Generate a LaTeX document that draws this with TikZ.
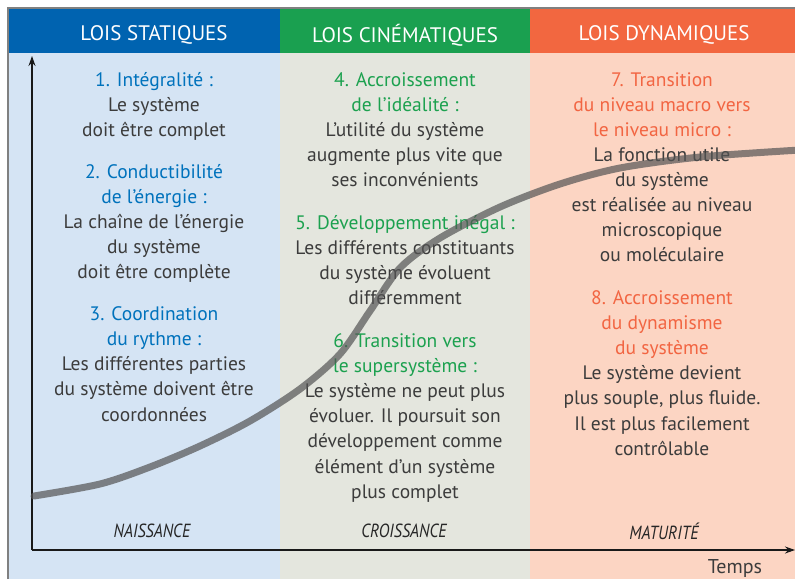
\documentclass[tikz,border=0pt]{standalone}
\usepackage{fontspec}
\setmainfont{PT Sans}
\usetikzlibrary{positioning,arrows.meta}
\definecolor{hblue}{RGB}{0,99,176}
\definecolor{hgreen}{RGB}{26,160,80}
\definecolor{horange}{RGB}{242,103,64}
\definecolor{lblue}{RGB}{213,228,244}
\definecolor{lgreen}{RGB}{228,230,222}
\definecolor{lorange}{RGB}{252,213,195}
\definecolor{tblue}{RGB}{0,114,188}
\definecolor{tgreen}{RGB}{28,161,79}
\definecolor{torange}{RGB}{242,101,66}
\definecolor{tbody}{RGB}{60,60,60}
\newcommand{\lawfont}{\fontsize{19.5}{25.1}\selectfont}
\newcommand{\lawtitle}[2]{\textcolor{#1}{#2}}
\tikzset{%
  head/.style     = { text = white, font = \fontsize{21}{21}\selectfont, inner sep = 0pt },
  law/.style      = { align = center, text = tbody, font = \lawfont, inner sep = 0pt, anchor = north,
    execute at begin node = \strut, execute at end node = \strut },
  stage/.style    = { text = black!85, font = \fontsize{19}{19}\selectfont\itshape, xscale = 0.85, inner sep = 0pt },
  axis/.style     = { -{Stealth[length = 10pt, width = 7pt]}, line width = 1.1pt, black!90 },
  curve/.style    = { line width = 7pt, draw = black!67, opacity = 0.7, line cap = round },
}

\begin{document}
\begin{tikzpicture}[x=1pt, y=-1pt]
    \useasboundingbox (0,0) rectangle (795,579);
    % columns --------------------------------------------------------------------------------------
    \fill[white]   (0,0)   rectangle (795,579);
    \fill[lblue]   (8,8)   rectangle (280,579);
    \fill[lgreen]  (280,8) rectangle (530,579);
    \fill[lorange] (530,8) rectangle (795,579);
    \fill[hblue]   (8,8)   rectangle (280,53);
    \fill[hgreen]  (280,8) rectangle (530,53);
    \fill[horange] (530,8) rectangle (795,53);
    \draw[black!50, line width = 1.5pt] (8,579) -- (8,8) -- (795,8);
    % headers
    \node(hs) [head] at (154,35) {LOIS STATIQUES};
    \node(hc) [head] at (405,35) {LOIS CINÉMATIQUES};
    \node(hd) [head] at (664,35) {LOIS DYNAMIQUES};
    % laws -----------------------------------------------------------------------------------------
    % statiques
    \node(s1) [law] at (154,72) {\lawtitle{tblue}{1. Intégralité :}\\ Le système\\ doit être complet};
    \node(s2) [law, below = 20pt of s1] {\lawtitle{tblue}{2. Conductibilité}\\ \lawtitle{tblue}{de l’énergie :}\\
      La chaîne de l’énergie\\ du système\\ doit être complète};
    \node(s3) [law, below = 20pt of s2] {\lawtitle{tblue}{3. Coordination}\\ \lawtitle{tblue}{du rythme :}\\
      Les différentes parties\\ du système doivent être\\ coordonnées};
    % cinematiques
    \node(c1) [law] at (405,72) {\lawtitle{tgreen}{4. Accroissement}\\ \lawtitle{tgreen}{de l’idéalité :}\\
      L’utilité du système\\ augmente plus vite que\\ ses inconvénients};
    \node(c2) [law, below = 21pt of c1] {\lawtitle{tgreen}{5. Développement inégal :}\\
      Les différents constituants\\ du système évoluent\\ différemment};
    \node(c3) [law, below = 21pt of c2] {\lawtitle{tgreen}{6. Transition vers}\\ \lawtitle{tgreen}{le supersystème :}\\
      Le système ne peut plus\\ évoluer. Il poursuit son\\ développement comme\\ élément d’un système\\ plus complet};
    % dynamiques
    \node(d1) [law] at (662,72) {\lawtitle{torange}{7. Transition}\\ \lawtitle{torange}{du niveau macro vers}\\
      \lawtitle{torange}{le niveau micro :}\\ La fonction utile\\ du système\\ est réalisée au niveau\\
      microscopique\\ ou moléculaire};
    \node(d2) [law, below = 21pt of d1] {\lawtitle{torange}{8. Accroissement}\\ \lawtitle{torange}{du dynamisme}\\
      \lawtitle{torange}{du système}\\ Le système devient\\ plus souple, plus fluide.\\
      Il est plus facilement\\ contrôlable};
    % stages
    \node(n1) [stage] at (152,531) {NAISSANCE};
    \node(n2) [stage] at (404,531) {CROISSANCE};
    \node(n3) [stage] at (664,531) {MATURITÉ};
    % axes -----------------------------------------------------------------------------------------
    \coordinate(o)  at (32,550);
    \coordinate(yt) at (32,56);
    \coordinate(xt) at (795,550);
    \draw[axis] (o) -- (yt);
    \draw[axis] (o) -- (xt);
    \node(tp) [text = tbody, font = \fontsize{20}{20}\selectfont] at (735,568) {Temps};
    % s-curve
    \draw[curve] plot[smooth, tension = 0.5] coordinates {(34,496) (100,484) (150,467) (200,446) (250,421)
      (300,389) (340,354) (370,311) (400,268) (440,238) (500,207) (560,184) (620,168) (700,157) (800,150)};
\end{tikzpicture}
\end{document}
